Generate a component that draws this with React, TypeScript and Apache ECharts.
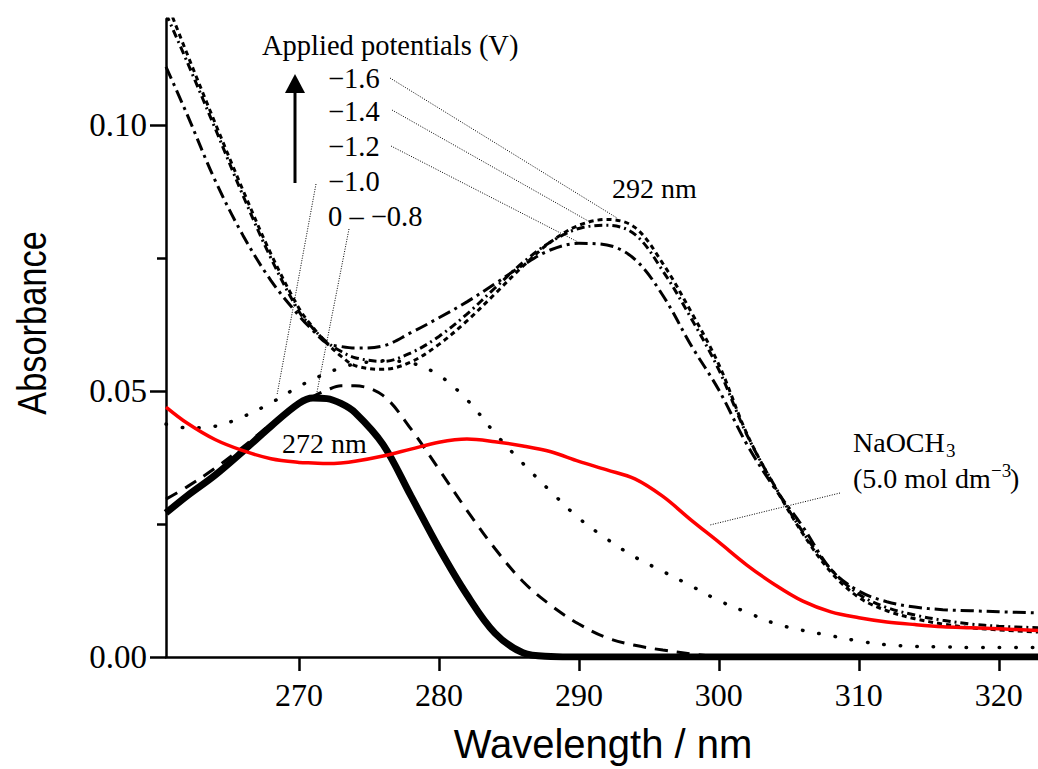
import React, { useEffect, useRef } from "react";
import * as echarts from "echarts";

// Wavelength grid (nm)
const wavelengths = [
  260.5, 262, 264, 266, 268, 270, 271, 272, 273, 274, 276, 278, 280, 282, 284, 286, 288, 290,
  292, 294, 296, 298, 300, 302, 304, 306, 308, 310, 312, 314, 316, 318, 320, 322.8,
];

// 0 – −0.6 V (thick solid)
const absThick = [
  0.0271, 0.0303, 0.0342, 0.0387, 0.0434, 0.0477, 0.0487, 0.0486, 0.0477, 0.046, 0.04, 0.0303, 0.0205, 0.0117, 0.0045, 0.0008, 0.0001, 0,
  0, 0, 0, 0, 0, 0, 0, 0, 0, 0, 0, 0, 0, 0, 0, 0,
];
// −0.8 V (dashed)
const absDashed = [
  0.0297, 0.032, 0.0355, 0.0395, 0.0438, 0.0475, 0.049, 0.0502, 0.051, 0.051, 0.0492, 0.0429, 0.0353, 0.0276, 0.0204, 0.0142, 0.0097, 0.0062,
  0.0036, 0.0022, 0.0013, 0.0006, 0.0001, 0, 0, 0, 0, 0, 0, 0, 0, 0, 0, 0,
];
// −1.0 V (dotted)
const absDotted = [
  0.0438, 0.0431, 0.0434, 0.0452, 0.0478, 0.0509, 0.0522, 0.0534, 0.0544, 0.0551, 0.0557, 0.0553, 0.053, 0.0484, 0.0421, 0.0364, 0.0311, 0.0261,
  0.0222, 0.0188, 0.0161, 0.0134, 0.0106, 0.0084, 0.0063, 0.005, 0.004, 0.003, 0.0023, 0.002, 0.0019, 0.0018, 0.0018, 0.0018,
];
// −1.2 V (long dash-dot)
const absM12 = [
  0.111, 0.1021, 0.0897, 0.0793, 0.0708, 0.0642, 0.0614, 0.059, 0.0584, 0.0581, 0.0585, 0.061, 0.0638, 0.0668, 0.0702, 0.0737, 0.0766, 0.0778,
  0.0775, 0.0748, 0.068, 0.0587, 0.0502, 0.04, 0.0317, 0.0245, 0.0165, 0.0124, 0.0104, 0.0094, 0.0089, 0.0087, 0.0085, 0.0083,
];
// −1.4 V
const absM14 = [
  0.121, 0.112, 0.0995, 0.0868, 0.075, 0.065, 0.0618, 0.0592, 0.0575, 0.0563, 0.0556, 0.0572, 0.0603, 0.0645, 0.0694, 0.0742, 0.0781, 0.0806,
  0.0812, 0.0795, 0.0726, 0.0638, 0.054, 0.0418, 0.0321, 0.0235, 0.0165, 0.0118, 0.0093, 0.0079, 0.0069, 0.0062, 0.0058, 0.0055,
];
// −1.6 V
const absM16 = [
  0.1235, 0.1135, 0.1005, 0.0878, 0.0758, 0.0656, 0.062, 0.059, 0.0566, 0.0548, 0.0541, 0.0555, 0.0588, 0.0632, 0.0683, 0.0735, 0.0781, 0.0812,
  0.0823, 0.0808, 0.074, 0.065, 0.055, 0.042, 0.032, 0.0232, 0.016, 0.0112, 0.0087, 0.0072, 0.0062, 0.0055, 0.0051, 0.0047,
];
// NaOCH3 (5.0 mol dm−3), red
const absNaOMe = [
  0.047, 0.044, 0.0409, 0.0388, 0.0373, 0.0366, 0.0365, 0.0364, 0.0365, 0.0368, 0.0378, 0.0391, 0.0404, 0.041, 0.0405, 0.0397, 0.0386, 0.0368,
  0.0352, 0.0335, 0.0302, 0.0258, 0.0216, 0.0173, 0.0136, 0.0105, 0.0085, 0.0074, 0.0066, 0.0061, 0.0057, 0.0055, 0.0053, 0.005,
];

const xTicks = [270, 280, 290, 300, 310, 320];
const yTicks = [0, 0.05, 0.1];
const yMinorTicks = [0.025, 0.075];

const potentialLabels = ["\u22121.6", "\u22121.4", "\u22121.2", "\u22121.0", "0 \u2013 \u22120.8"];

const pairs = (arr: number[]) => wavelengths.map((w, i) => [w, arr[i]]);

const SERIF = "'Liberation Serif', 'Times New Roman', serif";
const SANS = "'Liberation Sans', Arial, sans-serif";

export default function App() {
  const ref = useRef<HTMLDivElement>(null);

  useEffect(() => {
    document.body.style.margin = "0";
    const chart = echarts.init(ref.current!, null, { renderer: "svg" });

    const line = (name: string, data: number[], color: string, width: number, type: any, cap = "butt", z = 2) => ({
      name,
      type: "line",
      data: pairs(data),
      smooth: 0.35,
      showSymbol: false,
      symbol: "none",
      clip: true,
      z,
      lineStyle: { color, width, type, cap },
    });

    const axisColor = "#000";
    const dotted = (x1: number, y1: number, x2: number, y2: number) => ({
      type: "line",
      shape: { x1, y1, x2, y2 },
      style: { stroke: "#000", lineWidth: 1, lineDash: [1, 1.5] },
      z: 10,
    });
    const label = (text: string, x: number, y: number, size = 28, align = "left") => ({
      type: "text",
      x,
      y,
      z: 10,
      style: {
        text,
        fontFamily: SERIF,
        fontSize: size,
        fill: "#000",
        textAlign: align,
        textVerticalAlign: "middle",
      },
    });

    const labelYs = [78, 111, 146, 181, 216];

    const option: any = {
      animation: false,
      backgroundColor: "#fff",
      grid: { left: 166, right: 0, top: 19, bottom: 112, containLabel: false },
      xAxis: {
        type: "value",
        min: 260.5,
        max: 322.8,
        axisLine: { show: true, lineStyle: { color: axisColor, width: 2.5 } },
        axisTick: { show: true, customValues: xTicks, length: 14, lineStyle: { color: axisColor, width: 2.5 } },
        axisLabel: {
          customValues: xTicks,
          fontFamily: SERIF,
          fontSize: 32,
          color: "#000",
          margin: 22,
        },
        splitLine: { show: false },
      },
      yAxis: [
        {
          type: "value",
          min: 0,
          max: 0.12,
          axisLine: { show: true, lineStyle: { color: axisColor, width: 2.5 } },
          axisTick: { show: true, customValues: yTicks, length: 16, lineStyle: { color: axisColor, width: 2.5 } },
          axisLabel: {
            customValues: yTicks,
            formatter: (v: number) => v.toFixed(2),
            fontFamily: SERIF,
            fontSize: 33,
            color: "#000",
            margin: 19,
          },
          splitLine: { show: false },
        },
        {
          type: "value",
          min: 0,
          max: 0.12,
          position: "left",
          axisLine: { show: false },
          axisTick: { show: true, customValues: yMinorTicks, length: 9, lineStyle: { color: axisColor, width: 2.5 } },
          axisLabel: { show: false },
          splitLine: { show: false },
        },
      ],
      series: [
        line("−1.6 V", absM16, "#000", 3, [5, 4]),
        line("−1.4 V", absM14, "#000", 3, [8, 4, 2, 4]),
        line("−1.2 V", absM12, "#000", 3, [13, 5, 3, 5]),
        line("−1.0 V", absDotted, "#000", 3.5, [0.5, 16], "round"),
        line("−0.8 V", absDashed, "#000", 3, [13, 9]),
        line("0 – −0.6 V", absThick, "#000", 7, "solid", "butt", 3),
        line("NaOCH3", absNaOMe, "#ff0000", 3.5, "solid", "butt", 4),
      ],
      graphic: [
        // axis titles
        {
          type: "text",
          x: 32,
          y: 323,
          rotation: Math.PI / 2,
          scaleX: 0.86,
          style: {
            text: "Absorbance",
            fontFamily: SANS,
            fontSize: 40,
            fill: "#000",
            textAlign: "center",
            textVerticalAlign: "middle",
          },
        },
        {
          type: "text",
          x: 603,
          y: 744,
          style: {
            text: "Wavelength / nm",
            fontFamily: SANS,
            fontSize: 40,
            fill: "#000",
            textAlign: "center",
            textVerticalAlign: "middle",
          },
        },
        // legend-like annotation
        label("Applied potentials (V)", 262, 45, 28.5),
        ...potentialLabels.map((t, i) => label(t, 328, labelYs[i], 28.5)),
        // arrow
        {
          type: "line",
          shape: { x1: 295, y1: 183, x2: 295, y2: 90 },
          style: { stroke: "#000", lineWidth: 3 },
        },
        {
          type: "polygon",
          shape: { points: [[285, 93], [305, 93], [295, 74]] },
          style: { fill: "#000" },
        },
        // leader lines
        dotted(390, 78, 617, 218),
        dotted(392, 110, 590, 222),
        dotted(391, 146, 578, 242),
        dotted(316, 184, 277, 395),
        dotted(349, 229, 317, 392),
        dotted(840, 493, 710, 525),
        // peak labels
        label("272 nm", 282, 443),
        label("292 nm", 612, 188),
        // NaOCH3 label
        label("NaOCH", 853, 442),
        label("3", 946, 450, 19),
        label("(5.0 mol dm", 853, 478),
        label("\u22123", 991, 470, 19),
        label(")", 1010, 478),
      ],
    };

    chart.setOption(option);
    return () => chart.dispose();
  }, []);

  return <div ref={ref} style={{ width: 1038, height: 769 }} />;
}
